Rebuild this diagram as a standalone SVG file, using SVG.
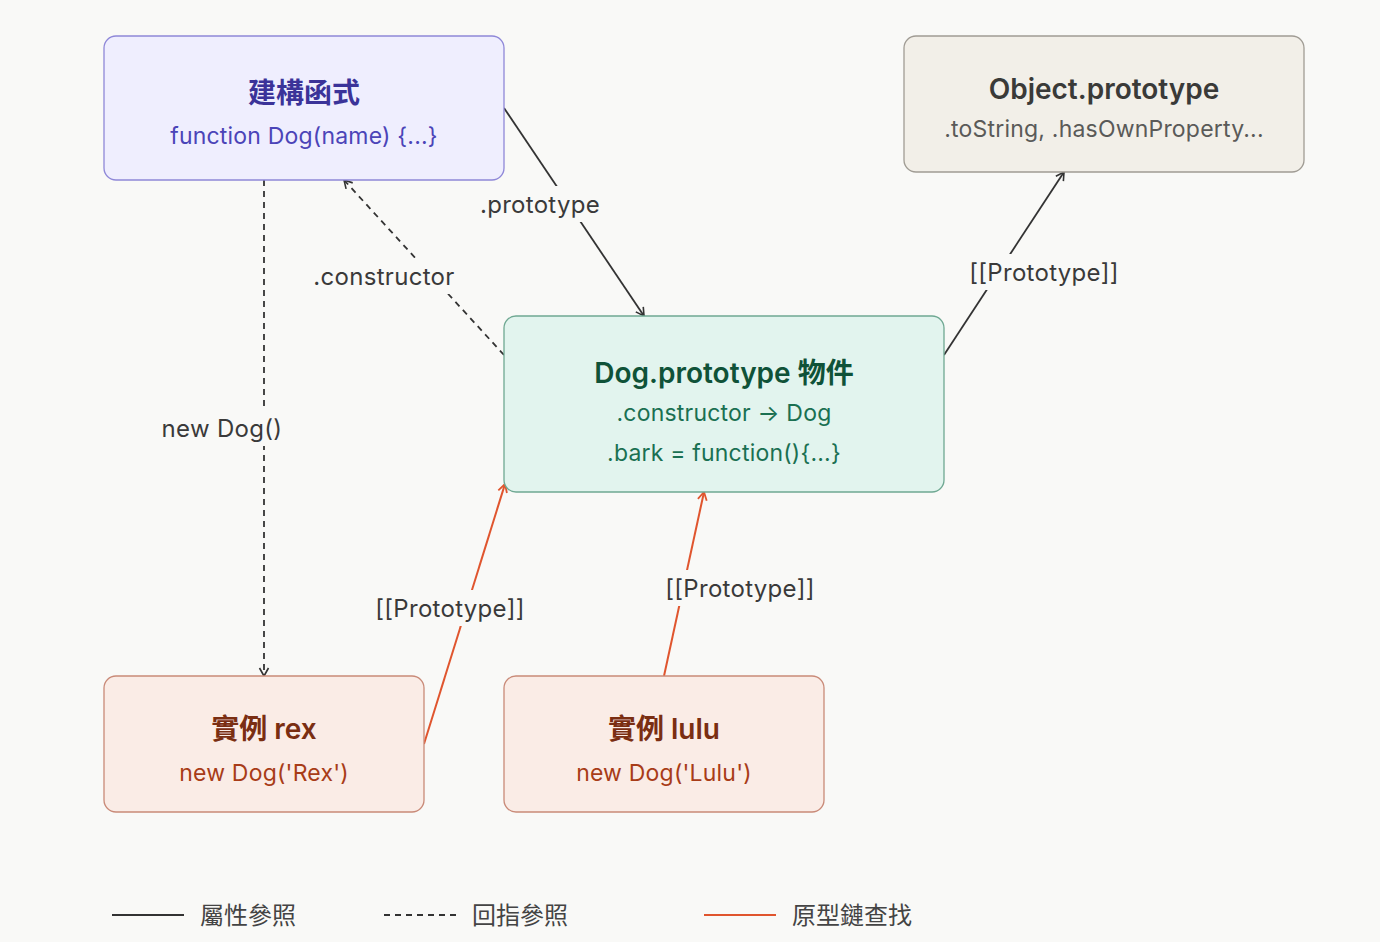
<svg xmlns="http://www.w3.org/2000/svg" width="1380" height="942" viewBox="0 0 1380 942">
<defs>
<style>
text{font-family:Inter,"Noto Sans","Noto Sans CJK TC",sans-serif;text-anchor:middle;dominant-baseline:central}
.t{font-size:28px;font-weight:600}
.s{font-size:23px;letter-spacing:0.2px}
.lbl{font-size:24px;fill:#3a3a3a;letter-spacing:0.3px}
.lg{font-size:24px;fill:#444;text-anchor:start}
.bg{fill:#f9f9f7}
.solid{stroke:#333;stroke-width:1.8;fill:none}
.dash{stroke:#333;stroke-width:1.8;fill:none;stroke-dasharray:6 5}
.org{stroke:#e0552e;stroke-width:2;fill:none}
</style>
<marker id="ad" markerWidth="12" markerHeight="12" refX="9" refY="6" orient="auto" markerUnits="userSpaceOnUse"><path d="M1,1.5 L9,6 L1,10.5" fill="none" stroke="#333" stroke-width="1.6"/></marker>
<marker id="ao" markerWidth="12" markerHeight="12" refX="9" refY="6" orient="auto" markerUnits="userSpaceOnUse"><path d="M1,1.5 L9,6 L1,10.5" fill="none" stroke="#e0552e" stroke-width="1.8"/></marker>
</defs>
<rect width="1380" height="942" fill="#f9f9f7"/>
<g id="connectors">
<line class="solid" x1="504" y1="108" x2="644" y2="316" marker-end="url(#ad)"/>
<line class="dash" x1="504" y1="355" x2="344" y2="180" marker-end="url(#ad)"/>
<line class="dash" x1="264" y1="180" x2="264" y2="676" marker-end="url(#ad)"/>
<line class="solid" x1="944" y1="355" x2="1064" y2="172" marker-end="url(#ad)"/>
<line class="org" x1="424" y1="744" x2="505" y2="484" marker-end="url(#ao)"/>
<line class="org" x1="664" y1="676" x2="704" y2="492" marker-end="url(#ao)"/>
<rect class="bg" x="476" y="186" width="128" height="36"/>
<text class="lbl" x="540" y="204">.prototype</text>
<rect class="bg" x="310" y="258" width="148" height="36"/>
<text class="lbl" x="384" y="276">.constructor</text>
<rect class="bg" x="160" y="410" width="124" height="36"/>
<text class="lbl" x="222" y="428">new Dog()</text>
<rect class="bg" x="964" y="254" width="160" height="36"/>
<text class="lbl" x="1044" y="272">[[Prototype]]</text>
<rect class="bg" x="370" y="590" width="160" height="36"/>
<text class="lbl" x="450" y="608">[[Prototype]]</text>
<rect class="bg" x="660" y="570" width="160" height="36"/>
<text class="lbl" x="740" y="588">[[Prototype]]</text>
</g>
<g id="ctor">
<rect x="104" y="36" width="400" height="144" rx="12" fill="#efeefe" stroke="#8f88d8" stroke-width="1.3"/>
<text class="t" x="304" y="93" fill="#3b3399">建構函式</text>
<text class="s" x="304" y="136" fill="#4b44b8">function Dog(name) {...}</text>
</g>
<g id="objproto">
<rect x="904" y="36" width="400" height="136" rx="12" fill="#f2efe8" stroke="#a09c94" stroke-width="1.3"/>
<text class="t" x="1104" y="89" fill="#3a3a38">Object.prototype</text>
<text class="s" x="1104" y="129" fill="#5a5a58">.toString, .hasOwnProperty...</text>
</g>
<g id="dogproto">
<rect x="504" y="316" width="440" height="176" rx="12" fill="#e2f4ee" stroke="#6fa892" stroke-width="1.3"/>
<text class="t" x="724" y="373" fill="#0f5238">Dog.prototype 物件</text>
<text class="s" x="724" y="413" fill="#1a7052">.constructor → Dog</text>
<text class="s" x="724" y="453" fill="#1a7052">.bark = function(){...}</text>
</g>
<g id="rex">
<rect x="104" y="676" width="320" height="136" rx="12" fill="#faece6" stroke="#c98a78" stroke-width="1.3"/>
<text class="t" x="264" y="729" fill="#7a2e12">實例 rex</text>
<text class="s" x="264" y="773" fill="#a83c18">new Dog('Rex')</text>
</g>
<g id="lulu">
<rect x="504" y="676" width="320" height="136" rx="12" fill="#faece6" stroke="#c98a78" stroke-width="1.3"/>
<text class="t" x="664" y="729" fill="#7a2e12">實例 lulu</text>
<text class="s" x="664" y="773" fill="#a83c18">new Dog('Lulu')</text>
</g>
<g id="legend">
<line class="solid" x1="112" y1="915" x2="184" y2="915"/>
<text class="lg" x="200" y="915">屬性參照</text>
<line class="dash" x1="384" y1="915" x2="456" y2="915"/>
<text class="lg" x="472" y="915">回指參照</text>
<line class="org" x1="704" y1="915" x2="776" y2="915"/>
<text class="lg" x="792" y="915">原型鏈查找</text>
</g>
</svg>
